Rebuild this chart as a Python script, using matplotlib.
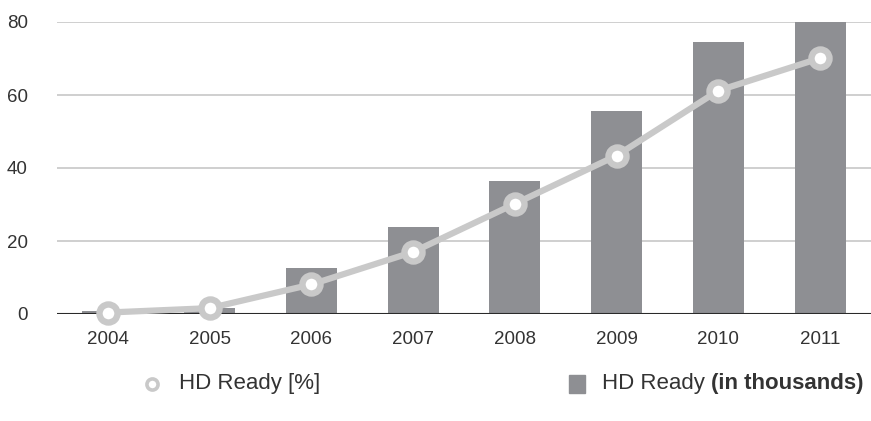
import matplotlib.pyplot as plt
from matplotlib.lines import Line2D
from matplotlib.patches import Rectangle

plt.rcParams['font.family'] = ['Liberation Sans', 'DejaVu Sans']

years = ['2004', '2005', '2006', '2007', '2008', '2009', '2010', '2011']
hd_thousands = [0.7, 1.7, 12.6, 23.7, 36.5, 55.5, 74.5, 80.0]
hd_percent = [0.4, 1.6, 8.1, 17.0, 30.2, 43.4, 61.2, 70.1]
yticks = [0, 20, 40, 60, 80]

bar_col = '#8e8f93'
line_col = '#c9c9c9'
txt_col = '#333333'

fig = plt.figure(figsize=(8.71, 4.21), dpi=100)
ax = fig.add_axes([57 / 871, 107 / 421, 1 - 57 / 871, 292 / 421])

x = list(range(len(years)))
ax.bar(x, hd_thousands, width=0.5, color=bar_col, zorder=2)
ax.plot(x, hd_percent, color=line_col, lw=4.5, marker='o', ms=13,
        mfc='white', mec=line_col, mew=4.6, zorder=4, clip_on=False)

ax.set_xlim(-0.5, 7.5)
ax.set_ylim(0, 80)
for v in yticks[1:]:
    ax.axhline(v, color='#cfcfcf', lw=1.4, zorder=1)
ax.axhline(0, color='#2a2a2a', lw=1.5, zorder=3)

ax.set_xticks(x)
ax.set_xticklabels(years)
ax.set_yticks(yticks)
ax.tick_params(length=0, labelsize=13.5, colors=txt_col)
ax.tick_params(axis='x', pad=12)
ax.tick_params(axis='y', pad=21)
for s in ax.spines.values():
    s.set_visible(False)

# legend, drawn by hand
ly = 1 - 384 / 421
fig.add_artist(Line2D([152 / 871], [ly], marker='o', ms=8, mfc='white',
                      mec=line_col, mew=2.6, transform=fig.transFigure))
fig.text(179 / 871, ly, 'HD Ready [%]', fontsize=16, color=txt_col, va='center')
fig.add_artist(Rectangle((569 / 871, ly - 9 / 421), 16 / 871, 18 / 421,
                         color=bar_col, transform=fig.transFigure))
t = fig.text(602 / 871, ly, 'HD Ready ', fontsize=16, color=txt_col, va='center')
ax.annotate('(in thousands)', xy=(1, 0.5), xycoords=t, va='center',
            fontsize=16, fontweight='bold', color=txt_col, annotation_clip=False)

fig.savefig('out.png', dpi=100)
